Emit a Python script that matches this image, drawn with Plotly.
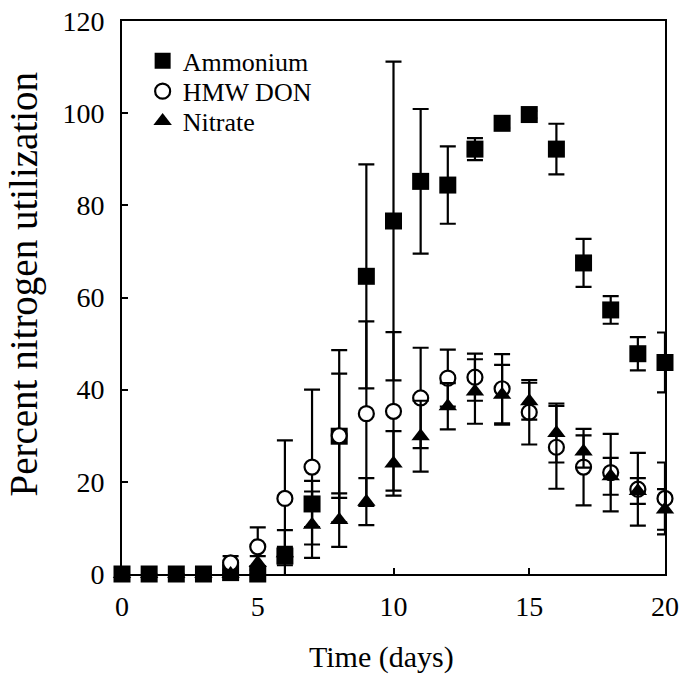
import plotly.graph_objects as go

days = list(range(21))

ammonium = [0, 0, 0, 0, 0.3, 0, 3.9, 15.2, 29.9, 64.6, 76.6, 85.2, 84.4, 92.2, 97.8, 99.7, 92.2, 67.5, 57.3, 47.8, 45.9]
ammonium_err = [0, 0, 0, 0, 0, 0, 2, 5, 18.7, 24.3, 34.6, 15.7, 8.4, 2.4, 1, 0.8, 5.5, 5.2, 3, 3.6, 6.5]

hmw_don = [None, None, None, None, 2.4, 5.9, 16.4, 23.2, 30, 34.8, 35.3, 38.2, 42.5, 42.7, 40.2, 35.1, 27.5, 23.2, 22, 18.4, 16.4]
hmw_don_err = [0, 0, 0, 0, 1.5, 4.2, 12.6, 16.8, 13.5, 20, 17.2, 10.9, 6.2, 5.1, 7.5, 7, 9, 8.3, 8.4, 7.9, 7.8]

nitrate = [0, 0, 0, 0, 0, 2.4, 4.5, 10.7, 11.7, 15.7, 24, 29.9, 36.4, 39.6, 38.9, 37.5, 30.6, 26.6, 21.2, 18, 14]
nitrate_err = [0, 0, 0, 0, 0, 1.5, 5, 7.2, 5.8, 5.1, 7, 7.7, 5, 7, 6.5, 4, 6.4, 3.5, 4, 2.8, 4.4]

x_ticks = [0, 5, 10, 15, 20]
y_ticks = [0, 20, 40, 60, 80, 100, 120]

FONT = "Liberation Serif, Times New Roman, serif"

def err(arr):
    return dict(type="data", array=arr, visible=True, color="black", thickness=2.2, width=8)

fig = go.Figure()
fig.add_trace(go.Scatter(
    x=days, y=ammonium, name="Ammonium", mode="markers", legend="legend",
    marker=dict(symbol="square", size=17, color="black", line=dict(width=0)),
    error_y=err(ammonium_err), cliponaxis=False))
fig.add_trace(go.Scatter(
    x=days, y=hmw_don, name="HMW DON", mode="markers", legend="legend2",
    marker=dict(symbol="circle", size=15, color="white", line=dict(width=2.2, color="black")),
    error_y=err(hmw_don_err), cliponaxis=False))
fig.add_trace(go.Scatter(
    x=days, y=nitrate, name="Nitrate", mode="markers", legend="legend3",
    marker=dict(symbol="triangle-up", size=16, color="black", line=dict(width=0)),
    error_y=err(nitrate_err), cliponaxis=False))

axis_common = dict(
    showgrid=False, zeroline=False, showline=True, linecolor="black", linewidth=2,
    mirror=True, ticks="inside", ticklen=6, tickwidth=2, tickcolor="black",
    automargin=False,
    tickfont=dict(family=FONT, size=28, color="black"),
)

def leg(y):
    return dict(x=0.038, y=y, xanchor="left", yanchor="middle",
                font=dict(family=FONT, size=26, color="black"),
                bgcolor="rgba(0,0,0,0)", itemwidth=30)

fig.update_layout(
    width=684, height=681, autosize=False,
    margin=dict(l=122, r=19, t=21, b=107, autoexpand=False),
    paper_bgcolor="white", plot_bgcolor="white",
    font=dict(family=FONT, color="black"),
    xaxis=dict(range=[0, 20], tickvals=x_ticks, ticklabelstandoff=6, **axis_common),
    yaxis=dict(range=[0, 120], tickvals=y_ticks, ticklabelstandoff=10, **axis_common),
    showlegend=True,
    legend=leg(0.928),
    legend2=leg(0.873),
    legend3=leg(0.819),
    annotations=[
        dict(text="Time (days)", xref="paper", yref="paper", x=0.477, y=-0.150,
             xanchor="center", yanchor="middle", showarrow=False,
             font=dict(family=FONT, size=30, color="black")),
        dict(text="Percent nitrogen utilization", xref="paper", yref="paper", x=-0.180, y=0.524,
             xanchor="center", yanchor="middle", showarrow=False, textangle=-90,
             font=dict(family=FONT, size=39, color="black")),
    ],
)

fig.write_html("out.html", config={"displayModeBar": False, "responsive": False},
               post_script="document.body.style.margin='0px';")
